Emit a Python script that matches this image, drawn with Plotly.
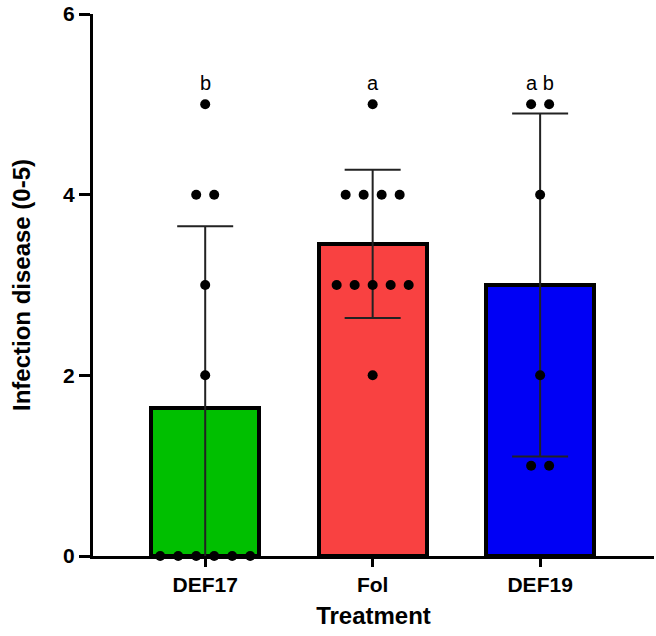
import numpy as np
import plotly.graph_objects as go

# ---- data ----
categories = ["DEF17", "Fol", "DEF19"]
def17_scores = [5, 4, 4, 3, 2, 0, 0, 0, 0, 0, 0]
fol_scores = [5, 4, 4, 4, 4, 3, 3, 3, 3, 3, 2]
def19_scores = [5, 5, 4, 2, 1, 1]
group_letters = ["b", "a", "a b"]
bar_colors = ["#00BF00", "#F94141", "#0000F5"]
y_ticks = [0, 2, 4, 6]

groups = [def17_scores, fol_scores, def19_scores]
means = [float(np.mean(g)) for g in groups]
sds = [float(np.std(g, ddof=1)) for g in groups]
xpos = list(range(len(categories)))

FONT = "Arial, Liberation Sans, Helvetica, sans-serif"

fig = go.Figure()
fig.add_trace(go.Bar(
    x=xpos, y=means, width=0.645,
    marker=dict(color=bar_colors, line=dict(color="black", width=4)),
    error_y=dict(type="data", array=sds, visible=True, color="#222222",
                 thickness=2, width=28),
    showlegend=False,
))

# scatter-style jitter (columns of equal values spread horizontally)
step = 0.1075
px, py = [], []
for i, g in enumerate(groups):
    vals, counts = np.unique(g, return_counts=True)
    for v, n in zip(vals, counts):
        for k in range(n):
            px.append(i + (k - (n - 1) / 2) * step)
            py.append(float(v))
fig.add_trace(go.Scatter(
    x=px, y=py, mode="markers",
    marker=dict(color="black", size=10),
    cliponaxis=False, showlegend=False,
))

for i, lab in enumerate(group_letters):
    fig.add_annotation(x=i, y=5.24, text=lab, showarrow=False,
                       xref="x", yref="y", yanchor="middle",
                       font=dict(family=FONT, size=20, color="black"))

fig.update_layout(
    width=656, height=636,
    margin=dict(l=93, r=2, t=8, b=80),
    plot_bgcolor="white", paper_bgcolor="white",
    font=dict(family=FONT, color="black"),
    bargap=0,
)
fig.update_xaxes(
    range=[-0.67, 2.68], tickmode="array", tickvals=xpos, ticktext=categories,
    showline=True, linecolor="black", linewidth=3,
    ticks="outside", ticklen=8, tickwidth=3, tickcolor="black",
    tickfont=dict(family=FONT, size=21, color="black", weight="bold"),
    showgrid=False, zeroline=False,
    title=dict(text="Treatment", standoff=12,
               font=dict(family=FONT, size=24, color="black", weight="bold")),
)
fig.update_yaxes(
    range=[0, 6], tickmode="array", tickvals=y_ticks,
    ticklabeloverflow="allow",
    showline=True, linecolor="black", linewidth=3,
    ticks="outside", ticklen=11, tickwidth=3, tickcolor="black",
    tickfont=dict(family=FONT, size=21, color="black", weight="bold"),
    showgrid=False, zeroline=False,
    title=dict(text="Infection disease (0-5)", standoff=26,
               font=dict(family=FONT, size=24, color="black", weight="bold")),
)

fig.write_html("out.html")
